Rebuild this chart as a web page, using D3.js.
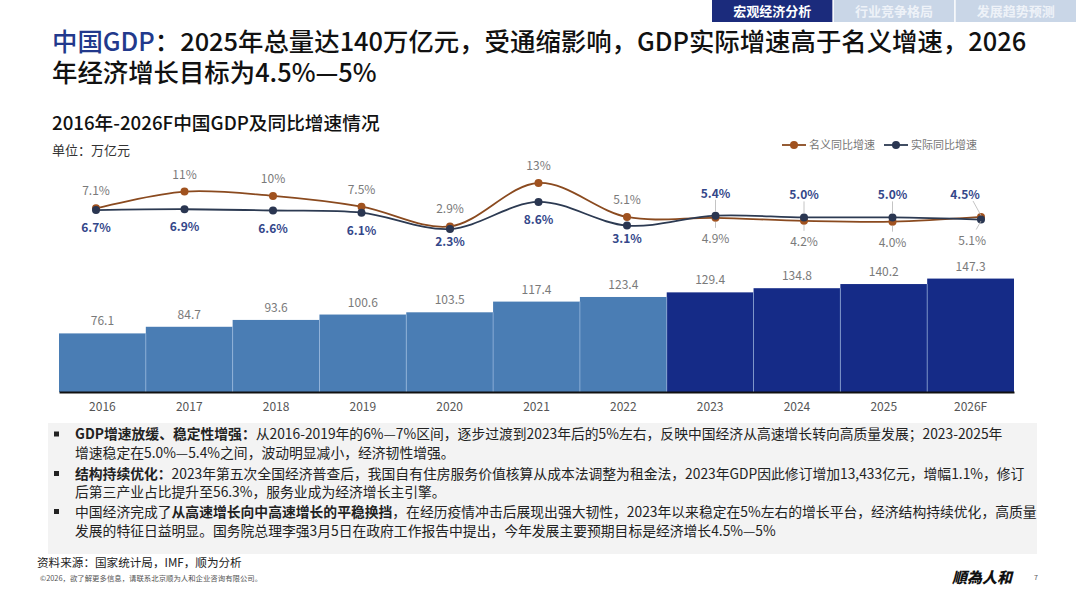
<!DOCTYPE html>
<html><head><meta charset="utf-8">
<script src="https://cdn.jsdelivr.net/npm/d3@7"></script>
<style>
html,body{margin:0;padding:0;background:#fff;}
svg{display:block;font-family:"Noto Sans CJK SC","Noto Sans",sans-serif;}
</style></head>
<body><svg id="c" width="1080" height="608"></svg>
<script>
// ---- data ----
const years = ["2016","2017","2018","2019","2020","2021","2022","2023","2024","2025","2026F"];
const gdp = [76.1,84.7,93.6,100.6,103.5,117.4,123.4,129.4,134.8,140.2,147.3];
const gdpLabels = ["76.1","84.7","93.6","100.6","103.5","117.4","123.4","129.4","134.8","140.2","147.3"];
const nominal = [7.1,11,10,7.5,2.9,13,5.1,4.9,4.2,4.0,5.1];
const nominalLabels = ["7.1%","11%","10%","7.5%","2.9%","13%","5.1%","4.9%","4.2%","4.0%","5.1%"];
const real = [6.7,6.9,6.6,6.1,2.3,8.6,3.1,5.4,5.0,5.0,4.5];
const realLabels = ["6.7%","6.9%","6.6%","6.1%","2.3%","8.6%","3.1%","5.4%","5.0%","5.0%","4.5%"];
const seriesNames = ["名义同比增速","实际同比增速"];
const tabs = ["宏观经济分析","行业竞争格局","发展趋势预测"];
const bullets = [
  [[{b:true,t:"GDP增速放缓、稳定性增强："},{t:"从2016-2019年的6%—7%区间，逐步过渡到2023年后的5%左右，反映中国经济从高速增长转向高质量发展；2023-2025年"}],
   [{t:"增速稳定在5.0%—5.4%之间，波动明显减小，经济韧性增强。"}]],
  [[{b:true,t:"结构持续优化："},{t:"2023年第五次全国经济普查后，我国自有住房服务价值核算从成本法调整为租金法，2023年GDP因此修订增加13,433亿元，增幅1.1%，修订"}],
   [{t:"后第三产业占比提升至56.3%，服务业成为经济增长主引擎。"}]],
  [[{t:"中国经济完成了"},{b:true,t:"从高速增长向中高速增长的平稳换挡"},{t:"，在经历疫情冲击后展现出强大韧性，2023年以来稳定在5%左右的增长平台，经济结构持续优化，高质量"}],
   [{t:"发展的特征日益明显。国务院总理李强3月5日在政府工作报告中提出，今年发展主要预期目标是经济增长4.5%—5%"}]]
];

const svg = d3.select("#c");

// ---- top tabs ----
const tabX = d3.scaleBand().domain(tabs).range([712,1076]).paddingInner(0.012);
svg.selectAll("rect.tab").data(tabs).join("rect")
  .attr("x", d=>tabX(d)).attr("y",0).attr("width",tabX.bandwidth()).attr("height",22)
  .attr("fill",(d,i)=>i===0?"#1b2b7c":"#c9d6e7");
svg.selectAll("text.tab").data(tabs).join("text")
  .attr("x", d=>tabX(d)+tabX.bandwidth()/2).attr("y",16).attr("text-anchor","middle")
  .attr("font-size",13).attr("font-weight",700)
  .attr("fill",(d,i)=>i===0?"#ffffff":"#eef2f8").text(d=>d);

// ---- title (one text element, two lines) ----
const t1 = svg.append("text").attr("x",52).attr("y",51).attr("font-size",25.4).attr("font-weight",500).attr("fill","#111");
t1.append("tspan").attr("fill","#22398c").text("中国GDP");
t1.append("tspan").text("：2025年总量达140万亿元，受通缩影响，GDP实际增速高于名义增速，2026");
t1.append("tspan").attr("x",52).attr("dy",31).text("年经济增长目标为4.5%—5%");

svg.append("text").attr("x",52).attr("y",129.5).attr("font-size",18.7).attr("font-weight",500).attr("fill","#111")
  .text("2016年-2026F中国GDP及同比增速情况");
svg.append("text").attr("x",52).attr("y",155).attr("font-size",13).attr("fill","#333").text("单位：万亿元");

// ---- bars ----
const xBar = d3.scaleBand().domain(years).range([59,1014]).padding(0);
const yBar = d3.scaleLinear().domain([0,150]).range([392,276.5]);
svg.selectAll("rect.bar").data(years).join("rect")
  .attr("x", d=>xBar(d)).attr("width", xBar.bandwidth())
  .attr("y",(d,i)=>yBar(gdp[i])).attr("height",(d,i)=>yBar(0)-yBar(gdp[i]))
  .attr("fill",(d,i)=>i<7?"#4a7db4":"#152b87");
svg.selectAll("line.sep").data(years.slice(1)).join("line")
  .attr("x1",d=>xBar(d)).attr("x2",d=>xBar(d))
  .attr("y1",392).attr("y2",(d,i)=>yBar(Math.min(gdp[i],gdp[i+1])))
  .attr("stroke","#a9c6ea").attr("stroke-width",0.8).attr("opacity",0.7);
svg.selectAll("text.bl").data(years).join("text")
  .attr("x", d=>xBar(d)+xBar.bandwidth()/2).attr("y",(d,i)=>yBar(gdp[i])-8)
  .attr("text-anchor","middle").attr("font-size",12).attr("fill","#7a7a7a")
  .text((d,i)=>gdpLabels[i]);
const ax = svg.append("g").attr("transform","translate(0,392)")
  .call(d3.axisBottom(xBar).tickSize(0).tickPadding(10));
ax.select(".domain").attr("stroke","#111").attr("stroke-width",2);
ax.selectAll("text").attr("font-size",12).attr("fill","#555").attr("font-family","\"Noto Sans CJK SC\",sans-serif");

// ---- lines ----
const xPt = d3.scalePoint().domain(years).range([96,981]);
const yLn = d3.scaleLinear().domain([0,15]).range([238.9,174.4]);
const nomColor = "#8a4a1f", nomDot = "#a0521f";
const realColor = "#2c3a52", realDot = "#2a3651";
const line = d3.line().x((d,i)=>xPt(years[i])).y(d=>yLn(d)).curve(d3.curveCatmullRom.alpha(0.5));
svg.append("path").attr("d",line(nominal)).attr("fill","none").attr("stroke",nomColor).attr("stroke-width",1.8);
svg.append("path").attr("d",line(real)).attr("fill","none").attr("stroke",realColor).attr("stroke-width",1.8);
svg.selectAll("circle.n").data(nominal).join("circle")
  .attr("cx",(d,i)=>xPt(years[i])).attr("cy",d=>yLn(d)).attr("r",4).attr("fill",nomDot);
svg.selectAll("circle.r").data(real).join("circle")
  .attr("cx",(d,i)=>xPt(years[i])).attr("cy",d=>yLn(d)).attr("r",4).attr("fill",realDot);

const split = 7;
const lastShift = (i)=> i===years.length-1 ? -16 : 0;
years.forEach((yr,i)=>{
  const x = xPt(yr);
  const yn = yLn(nominal[i]), yr_ = yLn(real[i]);
  if(i<split){
    svg.append("text").attr("x",x).attr("y",yn-13).attr("text-anchor","middle")
      .attr("font-size",12).attr("fill","#7a7a7a").text(nominalLabels[i]);
    svg.append("text").attr("x",x).attr("y",yr_+(i===4||i===6?17:22)).attr("text-anchor","middle")
      .attr("font-size",12).attr("font-weight",700).attr("fill","#34478a").text(realLabels[i]);
  } else {
    const top = Math.min(yn,yr_), bot = Math.max(yn,yr_);
    const lxTop = x+lastShift(i), lxBot = x+lastShift(i)*0.55;
    svg.append("line").attr("x1",x).attr("y1",yr_-4).attr("x2",lxTop+(i===years.length-1?8:0)).attr("y2",top-16)
      .attr("stroke","#b5b5b5").attr("stroke-width",0.8);
    svg.append("line").attr("x1",x).attr("y1",yn+4).attr("x2",lxBot+(i===years.length-1?4:0)).attr("y2",bot+10)
      .attr("stroke","#b5b5b5").attr("stroke-width",0.8);
    svg.append("text").attr("x",lxTop).attr("y",top-18).attr("text-anchor","middle")
      .attr("font-size",12).attr("font-weight",700).attr("fill","#34478a").text(realLabels[i]);
    svg.append("text").attr("x",lxBot).attr("y",bot+25).attr("text-anchor","middle")
      .attr("font-size",12).attr("fill","#7a7a7a").text(nominalLabels[i]);
  }
});

const legX = [782,884];
const legC = [[nomColor,nomDot],[realColor,realDot]];
seriesNames.forEach((n,i)=>{
  const g = svg.append("g").attr("transform",`translate(${legX[i]},145)`);
  g.append("line").attr("x1",0).attr("x2",24).attr("stroke",legC[i][0]).attr("stroke-width",1.8);
  g.append("circle").attr("cx",12).attr("r",4).attr("fill",legC[i][1]);
  g.append("text").attr("x",27).attr("y",4).attr("font-size",11).attr("fill","#777").text(n);
});

// ---- bottom text box ----
svg.append("rect").attr("x",48).attr("y",423).attr("width",989).attr("height",131).attr("fill","#f3f3f3");
const lineYs = [439,458,478.5,497,516.5,536];
bullets.forEach((b,bi)=>{
  svg.append("rect").attr("x",54).attr("y",lineYs[bi*2]-7.5).attr("width",5).attr("height",5).attr("fill","#222");
  b.forEach((ln,li)=>{
    const t = svg.append("text").attr("x",75).attr("y",lineYs[bi*2+li]).attr("font-size",13.8).attr("fill","#222");
    ln.forEach(s=>t.append("tspan").attr("font-weight",s.b?700:400).text(s.t));
  });
});

// ---- footer ----
svg.append("text").attr("x",37).attr("y",567).attr("font-size",11.6).attr("fill","#222").text("资料来源：国家统计局，IMF，顺为分析");
svg.append("text").attr("x",40).attr("y",581).attr("font-size",7.4).attr("fill","#555").text("©2026，欲了解更多信息，请联系北京顺为人和企业咨询有限公司。");
svg.append("text").attr("x",952).attr("y",583).attr("font-size",15).attr("font-weight",900).attr("fill","#111")
  .attr("font-family","\"Noto Sans CJK TC\",sans-serif").attr("font-style","italic").text("順為人和");
svg.append("text").attr("x",1034).attr("y",580).attr("font-size",7).attr("fill","#555").text("7");
</script></body></html>
